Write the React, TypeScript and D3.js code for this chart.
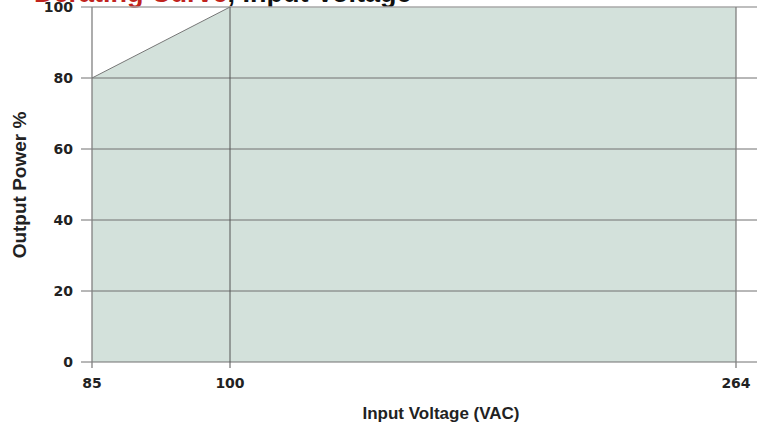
import React from 'react'
import * as d3 from 'd3'

// derating curve: output power vs input voltage
const voltage = [85, 100, 264]
const power = [80, 100, 100]
const xTicks = [85, 100, 264]
const yTicks = [0, 20, 40, 60, 80, 100]

const W = 764
const H = 425

export default function App() {
  // the voltage axis is not evenly spaced in the original, so use a piecewise scale
  const x = d3.scaleLinear().domain([85, 100, 264]).range([92, 230, 736])
  const y = d3.scaleLinear().domain([0, 100]).range([362, 7])

  const pts = voltage.map((v, i) => ({ v, p: power[i] }))
  const area = d3.area<{ v: number; p: number }>()
    .x(d => x(d.v))
    .y0(y(0))
    .y1(d => y(d.p))
  const line = d3.line<{ v: number; p: number }>()
    .x(d => x(d.v))
    .y(d => y(d.p))

  const tickFont = '"DejaVu Sans", sans-serif'
  const labelFont = '"Liberation Sans", Arial, sans-serif'

  return (
    <svg width={W} height={H} style={{ position: 'fixed', left: 0, top: 0, background: '#fff' }}>
      {/* title, cut off at the top edge like the source */}
      <text x={34} y={2} fontFamily={labelFont} fontWeight="bold" fontSize={27}>
        <tspan fill="#c0231d">Derating Curve</tspan>
        <tspan fill="#111">, Input Voltage</tspan>
      </text>

      <path d={area(pts) || ''} fill="#d3e1db" />

      {/* horizontal grid */}
      {yTicks.map(t => (
        <line key={'h' + t} x1={81} x2={757} y1={y(t)} y2={y(t)}
          stroke={t === 100 ? '#a9a9a9' : '#707070'} strokeWidth={t === 100 ? 1.5 : 1} />
      ))}
      {/* vertical grid */}
      {xTicks.map(t => (
        <line key={'v' + t} x1={x(t)} x2={x(t)} y1={y(100)} y2={y(0) + 6}
          stroke={t === 100 ? '#555' : '#808080'} strokeWidth={t === 100 ? 1 : 1.3} />
      ))}
      <path d={line(pts.slice(0, 2)) || ''} fill="none" stroke="#777" strokeWidth={1} />

      {yTicks.map(t => (
        <text key={'yl' + t} x={73} y={y(t)} dy="0.36em" textAnchor="end"
          fontFamily={tickFont} fontWeight="bold" fontSize={14} fill="#222">{t}</text>
      ))}
      {xTicks.map(t => (
        <text key={'xl' + t} x={x(t)} y={388} textAnchor="middle"
          fontFamily={tickFont} fontWeight="bold" fontSize={14} fill="#222">{t}</text>
      ))}

      <text x={441} y={419} textAnchor="middle" fontFamily={labelFont} fontWeight="bold"
        fontSize={17} fill="#222">Input Voltage (VAC)</text>
      <text transform={`translate(26,185) rotate(-90)`} textAnchor="middle" fontFamily={labelFont}
        fontWeight="bold" fontSize={19} fill="#222">Output Power %</text>
    </svg>
  )
}
